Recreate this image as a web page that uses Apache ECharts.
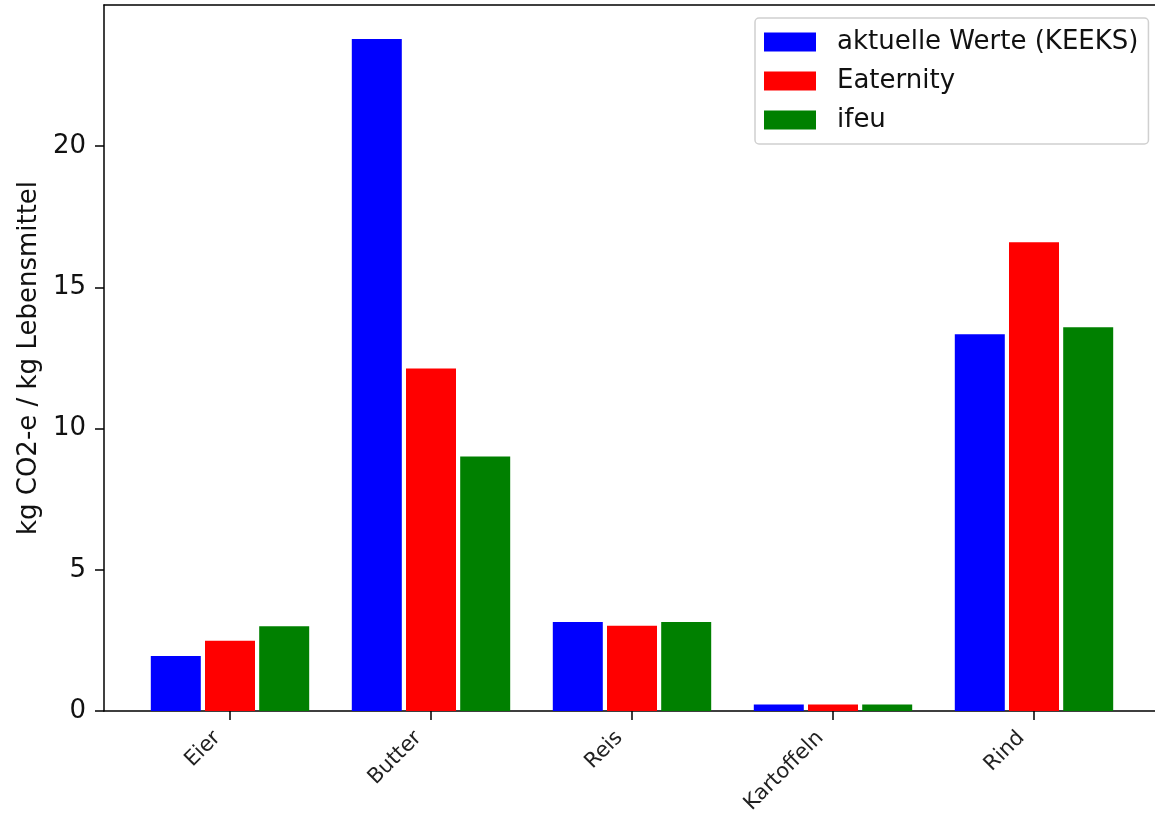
<!DOCTYPE html>
<html>
<head>
<meta charset="utf-8">
<script src="https://cdn.jsdelivr.net/npm/echarts@6/dist/echarts.min.js"></script>
<style>
html,body{margin:0;padding:0;background:#fff;}
#chart{width:1155px;height:813px;}
</style>
</head>
<body>
<div id="chart"></div>
<script>
const categories = ['Eier', 'Butter', 'Reis', 'Kartoffeln', 'Rind'];
const keeks = [1.95, 23.8, 3.15, 0.23, 13.34];
const eaternity = [2.49, 12.13, 3.02, 0.23, 16.6];
const ifeu = [3.0, 9.01, 3.15, 0.23, 13.59];
const seriesNames = ['aktuelle Werte (KEEKS)', 'Eaternity', 'ifeu'];
const yTicks = [0, 5, 10, 15, 20];

const FONT = 'DejaVu Sans';
const chart = echarts.init(document.getElementById('chart'), null, {renderer: 'canvas'});

const barBase = {
  type: 'bar',
  xAxisIndex: 2,
  yAxisIndex: 1,
  barWidth: 50,
  barGap: '8.4%',
  emphasis: {disabled: true}
};

chart.setOption({
  animation: false,
  backgroundColor: '#ffffff',
  textStyle: {fontFamily: FONT},
  grid: [
    {left: 104, top: 5, width: 1053, height: 706, containLabel: false, outerBoundsMode: 'none'},
    {left: 129.5, top: 5, width: 1005, height: 706, containLabel: false, outerBoundsMode: 'none'}
  ],
  legend: {
    data: seriesNames,
    orient: 'vertical',
    left: 755,
    top: 18,
    icon: 'rect',
    itemWidth: 52,
    itemHeight: 19,
    itemGap: 13,
    padding: [11, 10, 11, 9],
    borderColor: '#d0d0d0',
    borderWidth: 1.5,
    borderRadius: 4,
    backgroundColor: 'rgba(255,255,255,0.8)',
    textStyle: {fontFamily: FONT, fontSize: 26, color: '#111', padding: [0, 0, 0, 16]}
  },
  xAxis: [
    {
      gridIndex: 0, type: 'value', min: 0, max: 1, position: 'bottom',
      axisLine: {show: true, lineStyle: {color: '#000', width: 1.5}},
      axisTick: {show: false}, axisLabel: {show: false}, splitLine: {show: false}
    },
    {
      gridIndex: 0, type: 'value', min: 0, max: 1, position: 'top',
      axisLine: {show: true, lineStyle: {color: '#000', width: 1.5}},
      axisTick: {show: false}, axisLabel: {show: false}, splitLine: {show: false}
    },
    {
      gridIndex: 1, type: 'category', data: categories, position: 'bottom',
      boundaryGap: true,
      axisLine: {show: false},
      axisTick: {show: true, alignWithLabel: true, length: 9, lineStyle: {color: '#000', width: 1.5}},
      axisLabel: {
        rotate: 45, margin: 11, fontFamily: FONT, fontSize: 21, color: '#222',
        padding: [0, 18, 0, 0], interval: 0
      },
      splitLine: {show: false}
    }
  ],
  yAxis: [
    {
      gridIndex: 0, type: 'value', min: 0, max: 25, interval: 5,
      name: 'kg CO2-e / kg Lebensmittel',
      nameLocation: 'middle',
      nameGap: 60,
      nameTextStyle: {fontFamily: FONT, fontSize: 26, color: '#111'},
      axisLine: {show: true, lineStyle: {color: '#000', width: 1.5}},
      axisTick: {show: true, length: 9, inside: false, customValues: yTicks, lineStyle: {color: '#000', width: 1.5}},
      axisLabel: {
        margin: 18, fontFamily: FONT, fontSize: 26, color: '#111',
        customValues: yTicks,
        formatter: v => (yTicks.indexOf(v) >= 0 ? String(v) : '')
      },
      splitLine: {show: false}
    },
    {
      gridIndex: 1, type: 'value', min: 0, max: 25, show: false,
      splitLine: {show: false}
    }
  ],
  series: [
    Object.assign({}, barBase, {name: seriesNames[0], data: keeks, itemStyle: {color: '#0000ff'}}),
    Object.assign({}, barBase, {name: seriesNames[1], data: eaternity, itemStyle: {color: '#ff0000'}}),
    Object.assign({}, barBase, {name: seriesNames[2], data: ifeu, itemStyle: {color: '#008000'}})
  ]
});
</script>
</body>
</html>
